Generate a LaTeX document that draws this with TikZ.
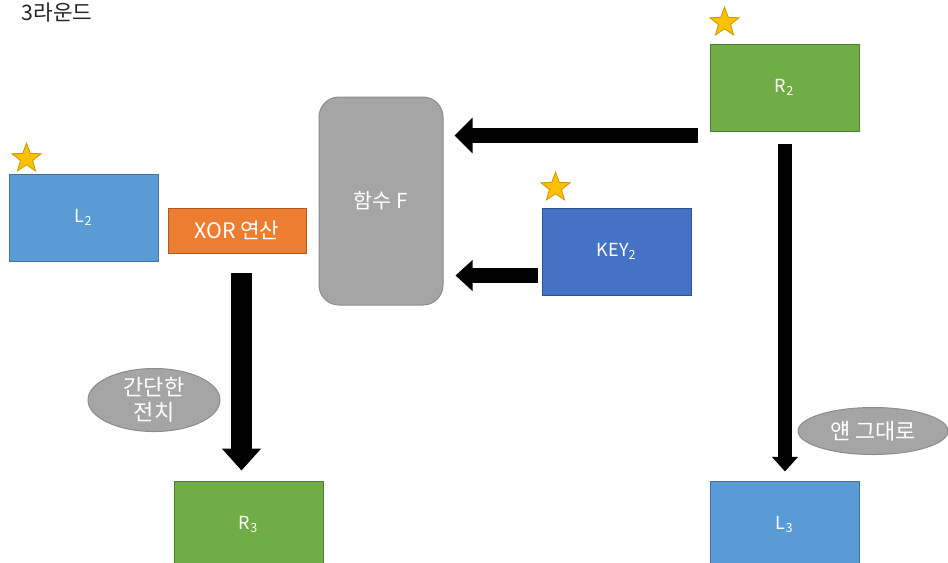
\documentclass[tikz,border=0pt]{standalone}
\usepackage{fontspec}
\setmainfont{Noto Sans CJK KR}
\usetikzlibrary{arrows.meta,calc,shapes.geometric}
\definecolor{lblue}{HTML}{5B9BD5}
\definecolor{lblueline}{HTML}{41719C}
\definecolor{dblue}{HTML}{4472C4}
\definecolor{dblueline}{HTML}{2F528F}
\definecolor{lgreen}{HTML}{70AD47}
\definecolor{lgreenline}{HTML}{507E32}
\definecolor{lorange}{HTML}{ED7D31}
\definecolor{lorangeline}{HTML}{AE5A21}
\definecolor{lgray}{HTML}{A5A5A5}
\definecolor{lgrayline}{HTML}{8C8C8C}
\definecolor{starfill}{HTML}{FFC000}
\definecolor{starline}{HTML}{C99800}
\begin{document}
\begin{tikzpicture}[
        x=0.75pt,
        y=-0.75pt,
        block/.style={
            rectangle,
            draw,
            line width=0.75pt,
            text=white,
            minimum width=111.75pt,
            minimum height=65.25pt,
            inner sep=0pt,
            font=\fontsize{13.5}{16}\selectfont
        },
        bluebox/.style={block, fill=lblue, draw=lblueline},
        keybox/.style={block, fill=dblue, draw=dblueline},
        greenbox/.style={block, fill=lgreen, draw=lgreenline},
        xorbox/.style={block, fill=lorange, draw=lorangeline, minimum width=103.5pt, minimum height=33.75pt, font=\fontsize{16}{19}\selectfont},
        funcbox/.style={block, fill=lgray, draw=lgrayline, rounded corners=15pt, minimum width=93pt, minimum height=156pt, font=\fontsize{15.5}{19}\selectfont},
        note/.style={
            ellipse,
            fill=lgray,
            draw=lgrayline,
            line width=0.75pt,
            text=white,
            inner sep=0pt,
            align=center,
            font=\fontsize{16.5}{18.5}\selectfont
        },
        goldstar/.style={
            star,
            star points=5,
            star point ratio=2.4,
            minimum size=23pt,
            inner sep=0pt,
            fill=starfill,
            draw=starline,
            line width=0.6pt
        },
        fatarrow/.style n args={3}{
            line width=#1,
            -{Triangle[width=#2, length=#3]}
        }
    ]
        \useasboundingbox (0,0) rectangle (948,562);

        \node[anchor=base west, font=\fontsize{16}{19}\selectfont, text=black!85] (title) at (17,20) {3라운드};

        \node[bluebox] (l2) at (83.5,217.5) {L\textsubscript{2}};
        \node[xorbox] (xor) at (237,230.5) {XOR 연산};
        \node[funcbox] (f) at (381,201) {함수 F};
        \node[keybox] (key) at (616.5,251.5) {KEY\textsubscript{2}};
        \node[greenbox] (r2) at (784.5,87.5) {R\textsubscript{2}};
        \node[greenbox] (r3) at (248.5,524.5) {R\textsubscript{3}};
        \node[bluebox] (l3) at (784.5,524.5) {L\textsubscript{3}};

        \node[goldstar] (s1) at ($(l2.north west)+(18,-15)$) {};
        \node[goldstar] (s2) at ($(key.north west)+(14,-20)$) {};
        \node[goldstar] (s3) at ($(r2.north west)+(15,-21)$) {};

        \node[note, minimum width=99pt, minimum height=42pt] (swap) at (154,400) {간단한\\전치};
        \node[note, minimum width=112.5pt, minimum height=35.25pt] (keep) at (873,431) {얜 그대로};

        \draw[fatarrow={11.25pt}{26pt}{13.5pt}] ($(r2.south west)+(-12,4)$) -- ($(f.east |- r2.south west)+(11,4)$);
        \draw[fatarrow={11.25pt}{22.5pt}{12.75pt}] ($(key.south west)+(-4,-20)$) -- ($(f.east |- key.south west)+(12,-20)$);
        \draw[fatarrow={15.75pt}{28.5pt}{16.5pt}] ($(xor.south)+(4.5,19)$) -- ($(xor.south |- r3.north)+(4.5,-10)$);
        \draw[fatarrow={10.5pt}{19pt}{11pt}] ($(r2.south)+(0.5,12)$) -- ($(r2.south |- l3.north)+(0.5,-9)$);

    \end{tikzpicture}
\end{document}
